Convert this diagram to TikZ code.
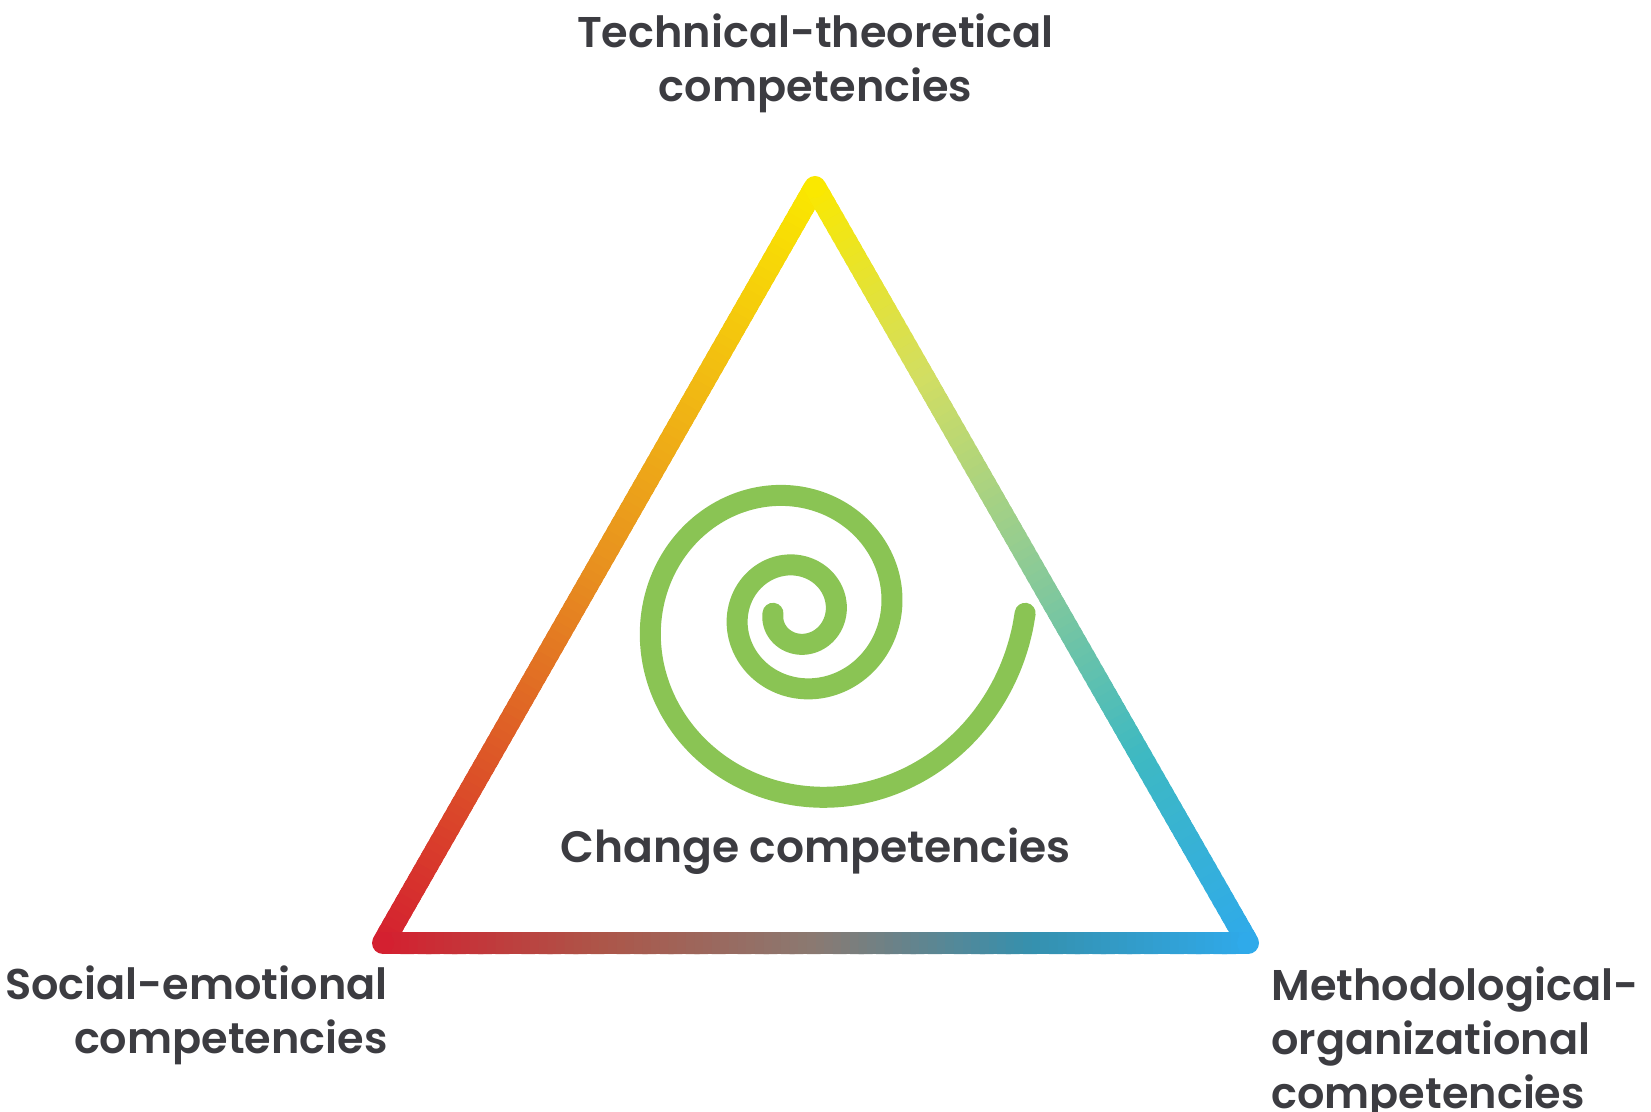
\documentclass[tikz,border=0pt]{standalone}
\usepackage{fontspec}
\setmainfont{Poppins}[BoldFont={Poppins SemiBold}]
\usetikzlibrary{calc}
\definecolor{txt}{HTML}{3C3C41}
\definecolor{spiralgreen}{HTML}{8AC454}
% left side: bottom-left -> apex
\definecolor{L0}{HTML}{D42030}
\definecolor{L1}{HTML}{DD5827}
\definecolor{L2}{HTML}{E8911F}
\definecolor{L3}{HTML}{F2BC12}
\definecolor{L4}{HTML}{FAE800}
% right side: apex -> bottom-right
\definecolor{R0}{HTML}{FAE800}
\definecolor{R1}{HTML}{D2DE62}
\definecolor{R2}{HTML}{8ECB95}
\definecolor{R3}{HTML}{3EB9C2}
\definecolor{R4}{HTML}{2FAAEA}
% bottom side: bottom-left -> bottom-right
\definecolor{B0}{HTML}{D42030}
\definecolor{B1}{HTML}{AD5548}
\definecolor{B2}{HTML}{8A7A72}
\definecolor{B3}{HTML}{3590AE}
\definecolor{B4}{HTML}{2FAAEA}
\newcommand\gradside[3]{%
  \foreach \gi in {0,...,99}{%
    \pgfmathsetmacro\gta{\gi/100}%
    \pgfmathsetmacro\gtb{min((\gi+1.6)/100,1)}%
    \pgfmathtruncatemacro\gk{floor((\gi+0.5)/25)}%
    \pgfmathsetmacro\gu{100*(((\gi+0.5)/25)-\gk)}%
    \edef\cA{#3\gk}%
    \edef\cB{#3\the\numexpr\gk+1\relax}%
    \draw[edgeseg, draw={\cB!\gu!\cA}] ($(#1)!\gta!(#2)$) -- ($(#1)!\gtb!(#2)$);
  }%
}
\begin{document}
\begin{tikzpicture}[x=0.5pt,y=-0.5pt,
  lbl/.style={text=txt, font=\fontsize{21.5}{27}\selectfont\bfseries, inner sep=0pt},
  edgeseg/.style={line width=11pt, line cap=butt},
  spiralline/.style={draw=spiralgreen, line width=10.5pt, line cap=round}]
\useasboundingbox (0,0) rectangle (1651,1112);
\coordinate (A) at (815,187);
\coordinate (B) at (383,943);
\coordinate (C) at (1248,943);
% triangle with gradient sides
\gradside{B}{A}{L}
\gradside{A}{C}{R}
\gradside{B}{C}{B}
\fill[L0] (B) circle[radius=5.5pt];
\fill[L4] (A) circle[radius=5.5pt];
\fill[R4] (C) circle[radius=5.5pt];
% spiral
\draw[spiralline] plot[domain=0:900, samples=240, smooth, variable=\t]
  ({797.6-24.6*exp(0.0024706*\t)*cos(\t)}, {613.3+24.6*exp(0.0024706*\t)*sin(\t)});
% labels
\node[lbl, anchor=north, align=center] (tech) at (815.5,13) {Technical-theoretical\\competencies};
\node[lbl, anchor=north, font=\fontsize{22}{27}\selectfont\bfseries] (change) at (815.5,828) {Change competencies};
\node[lbl, anchor=north east, align=right] (social) at (388,965) {Social-emotional\\competencies};
\node[lbl, anchor=north west, align=left] (method) at (1271,966) {Methodological-\\organizational\\competencies};
\end{tikzpicture}
\end{document}
